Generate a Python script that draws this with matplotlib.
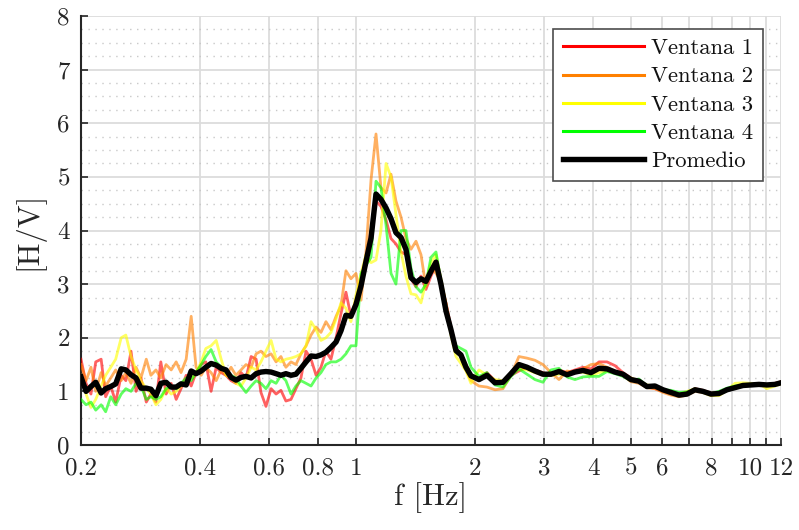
import matplotlib
matplotlib.use("Agg")
import matplotlib.pyplot as plt
from matplotlib.lines import Line2D
from matplotlib.ticker import FixedLocator, NullLocator

plt.rcParams['font.family'] = ['cmr10', 'DejaVu Serif']
plt.rcParams['axes.formatter.use_mathtext'] = True

# Frequencies [Hz]
freq = [0.200, 0.206, 0.212, 0.218, 0.225, 0.231, 0.238, 0.245, 0.253, 0.260,
        0.268, 0.276, 0.284, 0.293, 0.301, 0.310, 0.319, 0.329, 0.339, 0.349,
        0.359, 0.370, 0.381, 0.392, 0.404, 0.415, 0.428, 0.441, 0.454, 0.467,
        0.481, 0.495, 0.510, 0.525, 0.541, 0.557, 0.573, 0.590, 0.608, 0.626,
        0.644, 0.663, 0.683, 0.703, 0.724, 0.746, 0.768, 0.791, 0.814, 0.838,
        0.863, 0.889, 0.915, 0.942, 0.970, 0.999, 1.029, 1.059, 1.091, 1.123,
        1.156, 1.191, 1.226, 1.262, 1.300, 1.338, 1.378, 1.419, 1.461, 1.504,
        1.549, 1.595, 1.642, 1.691, 1.741, 1.793, 1.846, 1.901, 1.957,
        2.051, 2.149, 2.252, 2.360, 2.473, 2.591, 2.716, 2.846, 2.982, 3.125,
        3.275, 3.432, 3.596, 3.768, 3.949, 4.138, 4.336, 4.544, 4.761, 4.989,
        5.228, 5.479, 5.741, 6.016, 6.305, 6.607, 6.923, 7.255, 7.602, 7.967,
        8.348, 8.748, 9.167, 9.606, 10.07, 10.55, 11.05, 11.58, 12.0]

ventana1 = [1.60, 1.15, 0.95, 1.55, 1.60, 0.90, 1.10, 0.80, 1.30, 1.20,
            1.75, 1.00, 1.25, 0.80, 0.95, 0.80, 1.55, 0.95, 1.15, 0.85,
            1.05, 1.30, 1.10, 1.35, 1.50, 1.55, 1.00, 1.45, 1.35, 1.30,
            1.20, 1.15, 1.35, 1.25, 1.65, 1.60, 0.98, 0.72, 1.05, 0.95,
            1.02, 0.82, 0.85, 1.05, 1.25, 1.75, 1.60, 1.30, 1.45, 1.75,
            1.60, 2.00, 2.45, 2.85, 2.40, 2.70, 3.10, 3.50, 4.00, 4.55,
            4.45, 4.20, 3.85, 3.75, 3.60, 3.55, 3.10, 2.95, 3.15, 2.90,
            3.15, 3.35, 3.00, 2.65, 2.20, 1.80, 1.70, 1.50, 1.30,
            1.25, 1.35, 1.20, 1.15, 1.30, 1.38, 1.45, 1.40, 1.35, 1.30,
            1.40, 1.35, 1.40, 1.45, 1.42, 1.55, 1.55, 1.48, 1.35, 1.25,
            1.18, 1.08, 1.05, 1.00, 0.95, 0.95, 0.97, 1.05, 1.02, 0.97,
            0.98, 1.02, 1.08, 1.10, 1.13, 1.12, 1.11, 1.15, 1.18]

ventana2 = [1.50, 1.20, 1.45, 1.00, 1.35, 1.10, 1.25, 1.40, 1.20, 1.35,
            1.15, 1.45, 1.25, 1.60, 1.30, 1.40, 1.25, 1.50, 1.40, 1.55,
            1.35, 1.60, 2.40, 1.45, 1.30, 1.45, 1.35, 1.20, 1.40, 1.30,
            1.45, 1.30, 1.40, 1.50, 1.45, 1.70, 1.75, 1.65, 1.70, 1.55,
            1.65, 1.45, 1.55, 1.50, 1.70, 1.85, 2.05, 2.20, 2.10, 2.30,
            2.15, 2.40, 2.60, 3.25, 3.10, 3.20, 2.70, 3.60, 4.95, 5.80,
            4.80, 4.70, 5.05, 4.55, 4.25, 3.85, 3.65, 3.80, 3.55, 2.95,
            3.30, 3.20, 3.05, 2.65, 2.15, 1.75, 1.65, 1.40, 1.20,
            1.10, 1.08, 1.03, 1.05, 1.30, 1.65, 1.62, 1.58, 1.50, 1.35,
            1.22, 1.38, 1.35, 1.42, 1.50, 1.52, 1.45, 1.38, 1.30, 1.18,
            1.15, 1.07, 1.05, 0.98, 0.93, 0.90, 0.93, 1.00, 0.98, 0.93,
            0.95, 1.02, 1.06, 1.10, 1.11, 1.11, 1.12, 1.14, 1.18]

ventana3 = [1.30, 0.95, 0.70, 0.85, 1.10, 1.30, 1.45, 1.60, 2.00, 2.05,
            1.65, 1.40, 1.20, 1.05, 0.95, 0.75, 0.85, 1.05, 0.95, 1.00,
            1.10, 1.15, 1.25, 1.35, 1.55, 1.80, 1.85, 1.95, 1.60, 1.30,
            1.25, 1.15, 1.10, 1.25, 1.45, 1.40, 1.55, 1.75, 1.95, 1.60,
            1.55, 1.60, 1.62, 1.65, 1.70, 1.85, 2.30, 2.15, 1.95, 2.00,
            2.10, 2.35, 2.65, 2.55, 2.30, 2.80, 3.20, 3.55, 3.40, 3.45,
            4.00, 5.25, 5.00, 4.30, 3.60, 3.15, 2.82, 2.80, 2.65, 3.05,
            3.40, 3.55, 3.10, 2.60, 2.05, 1.65, 1.52, 1.38, 1.15,
            1.40, 1.30, 1.22, 1.20, 1.35, 1.42, 1.40, 1.35, 1.30, 1.30,
            1.32, 1.32, 1.35, 1.36, 1.30, 1.35, 1.38, 1.35, 1.30, 1.25,
            1.20, 1.12, 1.10, 1.02, 0.96, 0.95, 1.00, 1.05, 0.98, 0.92,
            0.92, 1.02, 1.15, 1.16, 1.15, 1.14, 1.05, 1.10, 1.14]

ventana4 = [0.85, 0.75, 0.80, 0.65, 0.75, 0.62, 0.90, 0.75, 0.95, 1.05,
            1.00, 1.15, 1.10, 0.85, 0.90, 0.85, 0.90, 1.05, 1.10, 1.05,
            1.15, 1.25, 1.20, 1.35, 1.50, 1.65, 1.78, 1.55, 1.45, 1.40,
            1.30, 1.25, 1.10, 0.98, 1.10, 1.20, 1.15, 1.05, 1.20, 1.15,
            1.30, 1.20, 0.95, 1.10, 1.20, 1.15, 1.10, 1.25, 1.35, 1.50,
            1.55, 1.55, 1.60, 1.70, 1.85, 1.85, 3.20, 3.35, 3.50, 4.92,
            4.80, 4.10, 3.20, 3.00, 4.00, 4.00, 3.30, 2.95, 2.85, 3.00,
            3.50, 3.60, 3.05, 2.55, 2.15, 1.85, 1.80, 1.75, 1.45,
            1.28, 1.35, 1.12, 1.08, 1.28, 1.42, 1.32, 1.22, 1.17, 1.40,
            1.43, 1.27, 1.22, 1.27, 1.28, 1.28, 1.37, 1.33, 1.28, 1.20,
            1.23, 1.10, 1.08, 1.03, 1.02, 0.98, 0.99, 1.03, 0.99, 0.96,
            1.00, 1.06, 1.10, 1.12, 1.13, 1.13, 1.13, 1.12, 1.16]

promedio = [1.27, 1.00, 1.09, 1.17, 0.97, 1.05, 1.09, 1.14, 1.42, 1.40,
            1.31, 1.25, 1.06, 1.06, 1.04, 0.92, 1.15, 1.17, 1.08, 1.08,
            1.14, 1.12, 1.38, 1.33, 1.38, 1.45, 1.52, 1.49, 1.43, 1.40,
            1.26, 1.21, 1.26, 1.28, 1.25, 1.33, 1.36, 1.37, 1.36, 1.33,
            1.30, 1.33, 1.30, 1.32, 1.43, 1.55, 1.66, 1.65, 1.68, 1.73,
            1.82, 1.92, 2.13, 2.42, 2.40, 2.62, 2.97, 3.42, 3.86, 4.68,
            4.58, 4.42, 4.22, 3.96, 3.87, 3.65, 3.12, 3.03, 3.10, 3.05,
            3.24, 3.41, 3.00, 2.50, 2.15, 1.76, 1.68, 1.45, 1.29,
            1.22, 1.30, 1.16, 1.17, 1.33, 1.50, 1.45, 1.38, 1.32, 1.32,
            1.37, 1.31, 1.36, 1.39, 1.35, 1.43, 1.42, 1.36, 1.32, 1.22,
            1.19, 1.09, 1.10, 1.03, 0.98, 0.93, 0.95, 1.03, 1.00, 0.95,
            0.96, 1.03, 1.07, 1.11, 1.12, 1.13, 1.12, 1.13, 1.16]

labels = ['Ventana 1', 'Ventana 2', 'Ventana 3', 'Ventana 4', 'Promedio']
colors = ['#ff0000', '#ff8000', '#ffff00', '#00ff00', '#000000']

xticks = [0.2, 0.4, 0.6, 0.8, 1, 2, 3, 4, 5, 6, 7, 8, 9, 10, 11, 12]
xticklabels = ['0.2', '0.4', '0.6', '0.8', '1', '2', '3', '4', '5', '6', '',
               '8', '', '10', '', '12']
yticks = [0, 1, 2, 3, 4, 5, 6, 7, 8]

fig = plt.figure(figsize=(7.99, 5.30), dpi=100)
ax = fig.add_axes([81 / 799, 85 / 530, 700 / 799, 429 / 530])

series = [ventana1, ventana2, ventana3, ventana4]
for s, c in zip(series, colors[:4]):
    ax.plot(freq, s, color=c, lw=2.0, alpha=0.62, solid_joinstyle='round', zorder=3)
ax.plot(freq, promedio, color='k', lw=3.9, solid_joinstyle='round', zorder=4)

ax.set_xscale('log')
ax.set_xlim(0.2, 12)
ax.set_ylim(0, 8)
ax.xaxis.set_major_locator(FixedLocator(xticks))
ax.xaxis.set_minor_locator(NullLocator())
ax.set_xticklabels(xticklabels)
ax.set_yticks(yticks)
ax.set_yticklabels([str(v) for v in yticks])
ax.yaxis.set_minor_locator(FixedLocator([i * 0.25 for i in range(33) if i % 4 != 0]))

ax.grid(True, which='major', color='#dcdcdc', lw=1.3, zorder=0)
ax.grid(True, which='minor', axis='y', color='#c8c8c8', lw=1.0,
        linestyle=(0, (1, 4)), zorder=0)
ax.set_axisbelow(True)

for side in ['top', 'right']:
    ax.spines[side].set_visible(False)
for side in ['left', 'bottom']:
    ax.spines[side].set_color('#262626')
    ax.spines[side].set_linewidth(1.5)

ax.tick_params(axis='both', which='major', direction='in', length=5, width=1.2,
               color='#262626', labelsize=18, labelcolor='#262626')
ax.tick_params(axis='x', pad=9)
ax.tick_params(axis='y', pad=8)
ax.tick_params(axis='both', which='minor', length=0)

ax.set_xlabel('f [Hz]', fontsize=22, color='#262626', labelpad=2)
ax.set_ylabel('[H/V]', fontsize=22, color='#262626', labelpad=9)

handles = [Line2D([], [], color=c, lw=2.2 if c != '#000000' else 3.9) for c in colors]
leg = ax.legend(handles, labels, loc='upper right', bbox_to_anchor=(0.974, 0.97),
                borderaxespad=0, fontsize=16.3, handlelength=3.6, handletextpad=0.3,
                labelspacing=0.37, borderpad=0.42, fancybox=False, framealpha=1,
                edgecolor='#4d4d4d')
leg.get_frame().set_linewidth(1.2)
for t in leg.get_texts():
    t.set_color('#111111')

fig.savefig('out.png', dpi=100)
